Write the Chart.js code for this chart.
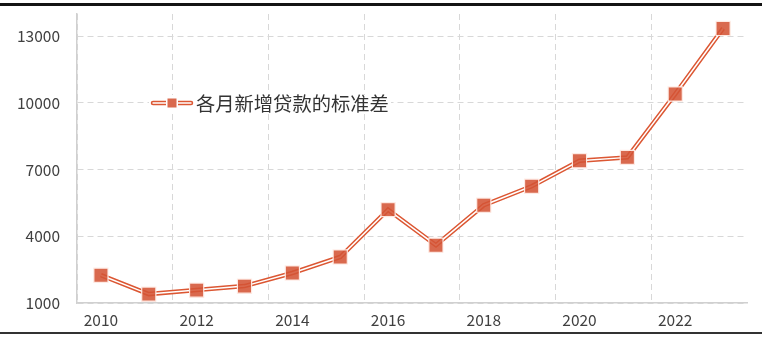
<!DOCTYPE html>
<html><head><meta charset="utf-8">
<script src="https://cdn.jsdelivr.net/npm/chart.js@4.4.0/dist/chart.umd.min.js"></script>
<style>html,body{margin:0;padding:0;background:#fff}#wrap{width:762px;height:339px;position:relative}</style>
</head><body><div id="wrap"><canvas id="c"></canvas></div>
<script>
const years = ['2010','2011','2012','2013','2014','2015','2016','2017','2018','2019','2020','2021','2022','2023'];
const stdDev = [2250,1400,1580,1760,2350,3070,5200,3600,5400,6250,7400,7550,10400,13350];
const yTicks = [1000,4000,7000,10000,13000];
const yMin = 1000, yMax = 14000;
const seriesName = '各月新增贷款的标准差';

const FONT = '"Noto Sans CJK SC","Noto Sans",sans-serif';
const LINE = '#dc5733';
const MARK = 'rgba(212,84,54,0.88)';
const GRID = '#d8d8d8';

const frame = {
  id: 'frame',
  afterDraw(chart) {
    const ctx = chart.ctx;
    ctx.save();
    ctx.fillStyle = '#141414';
    ctx.fillRect(0, 3, 762, 3);
    ctx.fillStyle = '#333';
    ctx.fillRect(0, 332, 762, 2);
    // legend inside plot
    const y = 103, x0 = 151, x1 = 193;
    ctx.fillStyle = '#fff';
    ctx.fillRect(149, 95, 242, 16);
    ctx.lineCap = 'round';
    ctx.strokeStyle = LINE; ctx.lineWidth = 4.5;
    ctx.beginPath(); ctx.moveTo(x0 + 2, y); ctx.lineTo(x1 - 2, y); ctx.stroke();
    ctx.strokeStyle = '#fff'; ctx.lineWidth = 1.4;
    ctx.beginPath(); ctx.moveTo(x0 + 2, y); ctx.lineTo(x1 - 2, y); ctx.stroke();
    ctx.fillStyle = '#fff';
    ctx.fillRect(166, y - 6, 12, 12);
    ctx.fillStyle = MARK;
    ctx.fillRect(167.5, y - 4.5, 9, 9);
    ctx.fillStyle = '#333';
    ctx.font = '19.3px ' + FONT;
    ctx.textBaseline = 'middle';
    ctx.textAlign = 'left';
    ctx.fillText(seriesName, 196, y + 1);
    ctx.restore();
  }
};

new Chart(document.getElementById('c'), {
  type: 'line',
  data: {
    labels: years,
    datasets: [
      {
        label: seriesName,
        data: stdDev,
        borderColor: '#ffffff',
        borderWidth: 1.5,
        pointStyle: 'rect',
        pointRadius: 10,
        pointBackgroundColor: MARK,
        pointBorderColor: 'rgba(255,236,230,0.95)',
        pointBorderWidth: 1.2,
        tension: 0,
        order: 0
      },
      {
        label: seriesName + '_line',
        data: stdDev,
        borderColor: LINE,
        borderWidth: 4.5,
        pointRadius: 0,
        tension: 0,
        order: 1
      }
    ]
  },
  options: {
    responsive: true,
    maintainAspectRatio: false,
    animation: false,
    devicePixelRatio: 1,
    layout: { autoPadding: false, padding: { left: 0, right: 15, top: 14, bottom: 0 } },
    plugins: { legend: { display: false }, tooltip: { enabled: false } },
    scales: {
      x: {
        type: 'category',
        offset: true,
        grid: {
          offset: true,
          drawTicks: false,
          color: (c) => (c.index % 2 === 0 ? GRID : 'rgba(0,0,0,0)'),
          lineWidth: 1
        },
        border: { display: true, color: '#d0d0d0', width: 1.5, dash: [6, 4] },
        ticks: {
          autoSkip: false,
          maxRotation: 0,
          padding: 8,
          color: '#404040',
          font: { family: FONT, size: 15.5 },
          callback: function (v, i) { return i % 2 === 0 ? this.getLabelForValue(v) : ''; }
        },
        afterFit(s) { s.height = 36; }
      },
      y: {
        min: yMin,
        max: yMax,
        afterBuildTicks(s) { s.ticks = yTicks.map(v => ({ value: v })); },
        grid: { drawTicks: true, tickLength: 17, tickColor: 'rgba(0,0,0,0)', color: GRID, lineWidth: 1 },
        border: { display: true, color: '#d0d0d0', width: 1.5, dash: [6, 4] },
        ticks: {
          padding: 0,
          color: '#404040',
          font: { family: FONT, size: 15.5 },
          callback: (v) => String(v)
        },
        afterFit(s) { s.width = 77; }
      }
    }
  },
  plugins: [frame]
});
</script>
</body></html>
